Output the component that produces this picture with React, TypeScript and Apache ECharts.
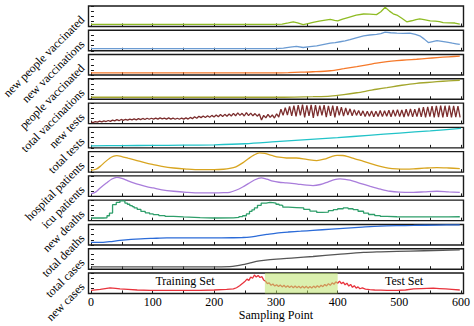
import React, { useEffect, useRef } from "react";
import * as echarts from "echarts";

const FONT = "Liberation Serif";

const panelNames = [
  "new people vaccinated",
  "new vaccinations",
  "people vaccinated",
  "total vaccinations",
  "new tests",
  "total tests",
  "hospital patients",
  "icu patients",
  "new deaths",
  "total deaths",
  "total cases",
  "new cases",
];

const panelColors = [
  "#8fbc24",
  "#6b9bd2",
  "#f5792a",
  "#a3a62c",
  "#7b2d2d",
  "#22c3c8",
  "#d8a520",
  "#a97ddb",
  "#2e9e6a",
  "#2b6bd8",
  "#555555",
  "#e8323c",
];

const xTickValues = [0, 50, 100, 150, 200, 250, 300, 350, 400, 450, 500, 550, 600];
const xLabelValues = [0, 100, 200, 300, 400, 500, 600];

const newPeopleVaccinated = [
  [0, 10], [50, 10], [100, 10], [150, 10], [200, 10], [250, 10], [300, 10], [310, 12], [320, 18], [328, 23],
  [335, 18], [344, 9], [352, 14], [360, 20], [370, 26], [380, 31], [388, 35], [395, 30], [400, 27], [408, 36],
  [418, 45], [430, 55], [442, 61], [452, 60], [463, 58], [470, 72], [477, 94], [484, 75], [490, 62], [496, 56],
  [504, 40], [512, 23], [520, 28], [527, 34], [533, 37], [540, 33], [550, 27], [558, 26], [565, 24], [571, 19],
  [580, 18], [590, 17], [598, 12],
];

const newVaccinations = [
  [0, 10], [100, 10], [200, 10], [300, 10], [312, 13], [323, 18], [333, 21], [344, 16], [355, 20], [366, 24],
  [376, 30], [388, 37], [396, 40], [404, 44], [412, 48], [420, 54], [430, 63], [442, 73], [452, 77], [463, 80],
  [470, 84], [477, 91], [486, 88], [496, 86], [506, 85], [517, 86], [526, 80], [533, 73], [540, 58], [547, 40],
  [554, 45], [561, 50], [569, 46], [577, 42], [586, 37], [592, 34], [598, 31],
];

const peopleVaccinated = [
  [0, 11], [100, 11], [200, 11], [300, 11], [320, 12], [340, 14], [360, 16], [388, 21], [410, 31], [431, 41],
  [450, 51], [463, 58], [480, 65], [496, 70], [512, 74], [528, 77], [545, 81], [561, 85], [580, 89], [598, 92],
];

const totalVaccinations = [
  [0, 10], [100, 10], [200, 10], [300, 10], [330, 11], [360, 13], [388, 16], [410, 23], [431, 32], [450, 42],
  [463, 49], [480, 57], [496, 65], [512, 72], [528, 78], [545, 82], [561, 86], [580, 90], [598, 93],
];

// new tests: one value every 3.5 sampling points (weekly high / low)
const newTestsStep = 3.5;
const newTestsY = [
  8, 5, 10, 7, 12, 8, 13, 10, 15, 11, 17, 13, 19, 14, 20, 16, 21, 17, 22, 18,
  23, 18, 24, 19, 25, 20, 26, 21, 26, 22, 27, 22, 28, 23, 27, 22, 28, 22, 27, 21,
  26, 21, 27, 22, 28, 22, 30, 24, 33, 26, 36, 29, 37, 30, 38, 31, 40, 32, 42, 33,
  44, 35, 45, 36, 47, 37, 50, 38, 52, 40, 50, 37, 53, 39, 51, 38, 49, 36, 47, 17,
  40, 28, 45, 30, 42, 27, 48, 32, 70, 40, 78, 42, 84, 38, 88, 35, 90, 40, 92, 30,
  89, 38, 91, 28, 90, 36, 88, 40, 90, 32, 86, 38, 88, 30, 85, 40, 80, 36, 76, 42,
  72, 38, 68, 40, 64, 38, 62, 34, 60, 36, 62, 33, 60, 35, 64, 34, 63, 36, 65, 33,
  66, 35, 68, 34, 66, 32, 70, 35, 72, 33, 70, 34, 76, 33, 80, 30, 82, 34, 85, 30,
  86, 32, 88, 30, 87, 33, 88, 30, 86, 32, 85, 30,
];

const totalTests = [
  [0, 10], [50, 11], [100, 12], [150, 13], [200, 15], [250, 20], [300, 30], [350, 40], [400, 50], [450, 61],
  [500, 72], [550, 83], [600, 95],
];

const hospitalPatients = [
  [0, 9], [8, 14], [15, 28], [23, 50], [31, 69], [36, 77], [42, 80], [50, 76], [60, 68], [69, 61],
  [80, 52], [90, 44], [101, 37], [115, 28], [134, 20], [155, 15], [177, 12], [200, 12], [215, 14], [225, 18],
  [235, 26], [246, 45], [255, 65], [264, 83], [273, 94], [282, 91], [295, 80], [305, 73], [317, 69], [333, 69],
  [350, 62], [366, 56], [378, 63], [390, 76], [399, 82], [408, 81], [415, 77], [428, 65], [442, 53], [455, 40],
  [469, 28], [482, 20], [496, 16], [510, 15], [523, 16], [540, 19], [561, 22], [580, 20], [598, 17],
];

const icuPatients = [
  [0, 12], [8, 22], [15, 41], [25, 65], [34, 85], [42, 93], [50, 88], [60, 76], [69, 66], [80, 56],
  [90, 48], [101, 41], [115, 32], [134, 25], [155, 20], [177, 17], [200, 17], [215, 18], [225, 20], [235, 30],
  [246, 46], [255, 62], [265, 80], [276, 90], [285, 84], [295, 74], [305, 69], [317, 66], [335, 60], [350, 55],
  [360, 53], [372, 58], [384, 70], [395, 82], [404, 85], [412, 83], [420, 79], [435, 65], [453, 49], [470, 35],
  [485, 25], [500, 21], [523, 20], [540, 22], [561, 25], [580, 22], [598, 20],
];

const newDeaths = [
  [0, 13], [10, 13], [20, 14], [26, 24], [30, 37], [35, 78], [41, 89], [47, 97], [52, 97], [55, 86],
  [59, 80], [63, 73], [67, 68], [70, 62], [75, 55], [81, 45], [88, 38], [95, 33], [101, 29], [110, 25],
  [120, 21], [134, 18], [150, 15], [177, 13], [200, 14], [231, 16], [240, 20], [246, 24], [252, 33], [257, 45],
  [261, 53], [265, 62], [270, 75], [276, 86], [284, 89], [290, 88], [295, 86], [300, 80], [305, 76], [309, 73],
  [311, 66], [320, 64], [333, 62], [345, 55], [355, 47], [366, 40], [375, 42], [385, 49], [393, 54], [400, 58],
  [409, 62], [417, 58], [425, 54], [433, 46], [442, 37], [450, 30], [460, 25], [469, 21], [480, 19], [496, 18],
  [523, 18], [561, 18], [580, 19], [598, 21],
];

const totalDeaths = [
  [0, 12], [15, 12], [30, 16], [47, 22], [65, 27], [81, 30], [100, 32], [123, 34], [150, 34], [177, 34],
  [200, 34], [231, 35], [245, 36], [257, 38], [270, 44], [285, 51], [301, 58], [320, 63], [340, 67], [360, 71],
  [390, 77], [415, 82], [440, 87], [469, 92], [495, 94], [523, 95], [560, 97], [598, 98],
];

const totalCases = [
  [0, 11], [50, 11], [100, 11], [150, 11], [200, 11], [225, 13], [235, 16], [246, 22], [257, 30], [268, 38],
  [280, 43], [301, 49], [330, 55], [360, 62], [400, 72], [442, 82], [470, 85], [496, 87], [540, 90], [570, 92],
  [598, 94],
];

const newCases = [
  [0, 15], [15, 20], [31, 27], [40, 25], [47, 22], [60, 20], [75, 17], [96, 15], [130, 15], [177, 15],
  [200, 17], [220, 20], [231, 22], [236, 28], [241, 38], [246, 50], [250, 60], [253, 70], [256, 64], [259, 80],
  [262, 74], [265, 90], [268, 80], [271, 88], [274, 78], [277, 82], [280, 66], [283, 60], [286, 48], [289, 52],
  [292, 40], [295, 46], [298, 36], [301, 43], [304, 34], [307, 41], [310, 32], [313, 40], [316, 30], [319, 38],
  [322, 29], [325, 37], [328, 28], [331, 36], [334, 28], [337, 35], [340, 27], [343, 35], [346, 27], [349, 35],
  [352, 26], [355, 34], [358, 27], [361, 36], [364, 28], [367, 38], [370, 30], [373, 40], [376, 33], [379, 44],
  [382, 37], [385, 48], [388, 40], [391, 52], [394, 45], [397, 57], [400, 50], [403, 60], [406, 48], [409, 55],
  [412, 42], [415, 50], [418, 36], [421, 44], [424, 30], [427, 38], [430, 26], [433, 32], [436, 23], [440, 27],
  [445, 21], [452, 19], [460, 17], [470, 16], [480, 15], [496, 15], [510, 17], [523, 22], [535, 24], [545, 25],
  [555, 26], [565, 24], [575, 22], [585, 20], [598, 17],
];

const testRange = [282, 400];
const setLabels = ["Training Set", "Test Set"];

export default function App() {
  const ref = useRef<HTMLDivElement>(null);

  useEffect(() => {
    if (!ref.current) return;
    const chart = echarts.init(ref.current, null, { renderer: "svg" });

    const panelData: any[] = [
      newPeopleVaccinated,
      newVaccinations,
      peopleVaccinated,
      totalVaccinations,
      newTestsY.map((v, i) => [i * newTestsStep, v]),
      totalTests,
      hospitalPatients,
      icuPatients,
      newDeaths,
      totalDeaths,
      totalCases,
      newCases,
    ];
    const smoothPanels = [2, 3, 5, 6, 7, 9, 10];

    const gridLeft = 88.5;
    const gridRight = 10.5;
    const firstTop = 6;
    const pitch = 24.27;
    const panelH = 20.5;
    const n = panelNames.length;

    const grids: any[] = [];
    const xAxes: any[] = [];
    const yAxes: any[] = [];
    const series: any[] = [];
    const graphics: any[] = [];

    for (let i = 0; i < n; i++) {
      const top = firstTop + pitch * i;
      grids.push({
        left: gridLeft,
        right: gridRight,
        top,
        height: panelH,
        show: true,
        borderColor: "#1a1a1a",
        borderWidth: 1.4,
        backgroundColor: "transparent",
      });
      const last = i === n - 1;
      xAxes.push({
        gridIndex: i,
        type: "value",
        min: -4,
        max: 604,
        axisLine: { show: false },
        splitLine: { show: false },
        axisTick: {
          show: true,
          inside: true,
          length: 3,
          customValues: xTickValues,
          lineStyle: { color: "#1a1a1a", width: 1 },
        },
        axisLabel: {
          show: last,
          customValues: xLabelValues,
          margin: 3,
          fontSize: 12,
          fontFamily: FONT,
          color: "#000",
        },
        name: last ? "Sampling Point" : "",
        nameLocation: "middle",
        nameGap: 15,
        nameTextStyle: { fontSize: 12, fontFamily: FONT, color: "#000" },
      });
      yAxes.push({
        gridIndex: i,
        type: "value",
        min: 0,
        max: 100,
        interval: 25,
        axisLine: { show: false },
        splitLine: { show: false },
        axisTick: { show: true, inside: true, length: 3, lineStyle: { color: "#1a1a1a", width: 1 } },
        axisLabel: { show: false },
      });
      const s: any = {
        type: "line",
        name: panelNames[i],
        xAxisIndex: i,
        yAxisIndex: i,
        data: panelData[i],
        showSymbol: false,
        symbol: "none",
        smooth: smoothPanels.includes(i) ? 0.3 : false,
        lineStyle: { color: panelColors[i], width: 1.3 },
        itemStyle: { color: panelColors[i] },
      };
      if (i === 8) s.step = "end";
      if (last) {
        s.markArea = {
          silent: true,
          z: 5,
          itemStyle: { color: "rgba(190,228,110,0.55)" },
          data: [[{ xAxis: testRange[0] }, { xAxis: testRange[1] }]],
        };
      }
      series.push(s);

      graphics.push({
        type: "text",
        x: 82.5,
        y: top + panelH / 2 + 1.5,
        rotation: Math.PI / 4,
        style: {
          text: panelNames[i],
          fontSize: 12,
          fontFamily: FONT,
          fill: "#000",
          align: "right",
          verticalAlign: "middle",
        },
      });
    }

    const lastTop = firstTop + pitch * (n - 1);
    graphics.push({
      type: "text",
      x: 185,
      y: lastTop + 8,
      z: 10,
      style: { text: setLabels[0], fontSize: 12, fontFamily: FONT, fill: "#000", align: "center", verticalAlign: "middle" },
    });
    graphics.push({
      type: "text",
      x: 404,
      y: lastTop + 8,
      z: 10,
      style: { text: setLabels[1], fontSize: 12, fontFamily: FONT, fill: "#000", align: "center", verticalAlign: "middle" },
    });

    chart.setOption({
      animation: false,
      backgroundColor: "#fff",
      textStyle: { fontFamily: FONT },
      grid: grids,
      xAxis: xAxes,
      yAxis: yAxes,
      series,
      graphic: graphics,
    });

    return () => chart.dispose();
  }, []);

  return (
    <div
      ref={ref}
      style={{ position: "fixed", left: 0, top: 0, width: 474, height: 326, background: "#fff" }}
    />
  );
}
